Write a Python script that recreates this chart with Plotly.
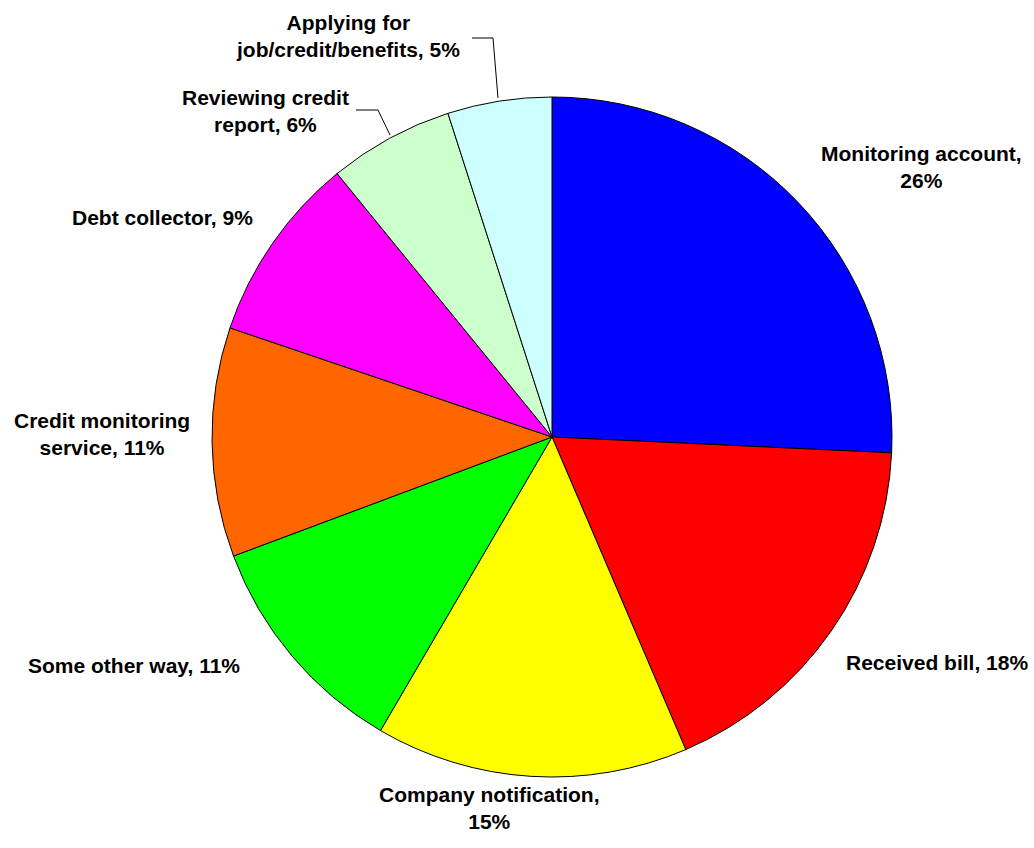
import plotly.graph_objects as go

W, H = 1034, 848

# Data
categories = [
    "Monitoring account",
    "Received bill",
    "Company notification",
    "Some other way",
    "Credit monitoring service",
    "Debt collector",
    "Reviewing credit report",
    "Applying for job/credit/benefits",
]
shares = [26, 18, 15, 11, 11, 9, 6, 5]
label_lines = [
    "Monitoring account,<br>{v}%",
    "Received bill, {v}%",
    "Company notification,<br>{v}%",
    "Some other way, {v}%",
    "Credit monitoring<br>service, {v}%",
    "Debt collector, {v}%",
    "Reviewing credit<br>report, {v}%",
    "Applying for<br>job/credit/benefits, {v}%",
]
colors = ["#0000FF", "#FF0000", "#FFFF00", "#00FF00",
          "#FF6600", "#FF00FF", "#CCFFCC", "#CCFFFF"]

# Label anchor points (pixel space) placed around the pie
label_pos = [(921, 167), (937, 662), (490, 808), (134, 665),
             (102, 434), (162, 217), (265, 111), (348, 36)]


def px(x, y):
    return x / W, 1 - y / H


cx, cy, r = 552, 437, 340
fig = go.Figure(go.Pie(
    labels=categories,
    values=shares,
    sort=False,
    direction="clockwise",
    rotation=0,
    marker=dict(colors=colors, line=dict(color="black", width=1)),
    textinfo="none",
    hoverinfo="label+value",
    showlegend=False,
    domain=dict(x=[(cx - r) / W, (cx + r) / W],
                y=[1 - (cy + r) / H, 1 - (cy - r) / H]),
))

font = dict(family="Liberation Sans, Arial, sans-serif", size=21, color="black")
for tmpl, v, (lx, ly) in zip(label_lines, shares, label_pos):
    x, y = px(lx, ly)
    fig.add_annotation(x=x, y=y, xref="paper", yref="paper",
                       text="<b>" + tmpl.format(v=v) + "</b>",
                       showarrow=False, font=font, align="center",
                       xanchor="center", yanchor="middle")

# Leader lines for the two small slices at the top
leaders = [
    [(498, 98), (493, 38), (472, 38)],
    [(390, 135), (378, 110), (356, 110)],
]
for pts in leaders:
    path = "M " + " L ".join(
        "{:.5f},{:.5f}".format(*px(x, y)) for x, y in pts)
    fig.add_shape(type="path", path=path, xref="paper", yref="paper",
                  line=dict(color="black", width=1))

fig.update_layout(
    width=W, height=H,
    margin=dict(l=0, r=0, t=0, b=0),
    paper_bgcolor="white",
    plot_bgcolor="white",
)

fig.write_html("out.html")
